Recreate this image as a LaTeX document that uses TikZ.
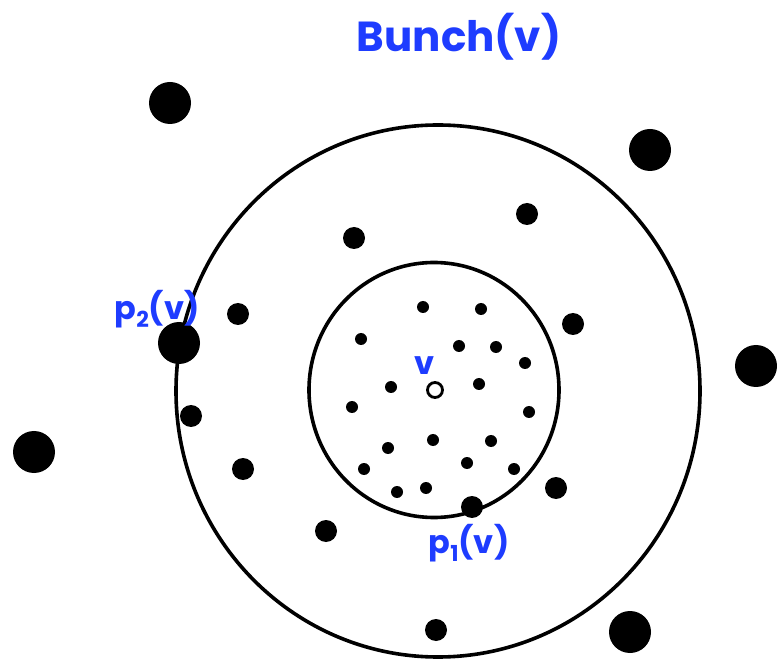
\documentclass[tikz,border=0pt]{standalone}
\usepackage{fontspec}
\setmainfont{Poppins}
\usepackage{tikz}
\usetikzlibrary{positioning,shapes.geometric}
\definecolor{bunchblue}{RGB}{30,60,255}
\newcommand{\lowidx}[1]{\raisebox{-0.45ex}{\fontsize{22}{22}\selectfont #1}}

\begin{document}
\begin{tikzpicture}[
    x=1pt, y=-1pt,
    ring/.style={ellipse, draw=black, line width=3.6pt, inner sep=0pt},
    dotsmall/.style={circle, fill=black, inner sep=0pt, minimum size=12pt},
    dotmid/.style={circle, fill=black, inner sep=0pt, minimum size=22pt},
    dotbig/.style={circle, fill=black, inner sep=0pt, minimum size=42pt},
    lbl/.style={text=bunchblue, font=\bfseries\fontsize{32}{34}\selectfont, inner sep=0pt}
]
\useasboundingbox (0,0) rectangle (777,660);

\node[font=\bfseries\fontsize{42}{46}\selectfont, text=bunchblue] (Title) at (459,37) {Bunch(v)};

% the two balls around v
\node[ring, minimum width=524pt, minimum height=532pt] (Outer) at (438,391) {};
\node[ring, minimum width=250pt, minimum height=255pt] (Inner) at (434,390) {};

% v itself
\node[circle, draw=black, line width=2.8pt, fill=white, inner sep=0pt, minimum size=15pt] (V) at (435,390) {};
\node[lbl] (VLabel) at ([shift={(-10,-24)}]V) {v};

% points inside the inner ball
\node[dotsmall] (a1) at (423,307) {};
\node[dotsmall] (a2) at (481,309) {};
\node[dotsmall] (a3) at (361,339) {};
\node[dotsmall] (a4) at (459,346) {};
\node[dotsmall] (a5) at (496,347) {};
\node[dotsmall] (a6) at (525,363) {};
\node[dotsmall] (a7) at (391,387) {};
\node[dotsmall] (a8) at (479,384) {};
\node[dotsmall] (a9) at (352,407) {};
\node[dotsmall] (a10) at (529,412) {};
\node[dotsmall] (a11) at (433,440) {};
\node[dotsmall] (a12) at (388,448) {};
\node[dotsmall] (a13) at (491,441) {};
\node[dotsmall] (a14) at (467,463) {};
\node[dotsmall] (a15) at (364,469) {};
\node[dotsmall] (a16) at (514,469) {};
\node[dotsmall] (a17) at (397,492) {};
\node[dotsmall] (a18) at (426,488) {};

% points between the balls
\node[dotmid] (b1) at (354,238) {};
\node[dotmid] (b2) at (527,214) {};
\node[dotmid] (b3) at (573,324) {};
\node[dotmid] (b4) at (238,314) {};
\node[dotmid] (b5) at (191,416) {};
\node[dotmid] (b6) at (243,469) {};
\node[dotmid] (b7) at (556,488) {};
\node[dotmid] (b8) at (326,531) {};
\node[dotmid] (b9) at (436,630) {};
\node[dotmid] (P1) at (472,507) {};

% points outside
\node[dotbig] (c1) at (170,103) {};
\node[dotbig] (c2) at (650,150) {};
\node[dotbig] (c3) at (756,366) {};
\node[dotbig] (c4) at (34,452) {};
\node[dotbig] (c5) at (630,632) {};
\node[dotbig] (P2) at (179,343) {};

\node[lbl] (P1Label) at ([shift={(-3,36)}]P1) {p\lowidx{1}(v)};
\node[lbl] (P2Label) at ([shift={(-22,-34)}]P2) {p\lowidx{2}(v)};
\end{tikzpicture}
\end{document}
